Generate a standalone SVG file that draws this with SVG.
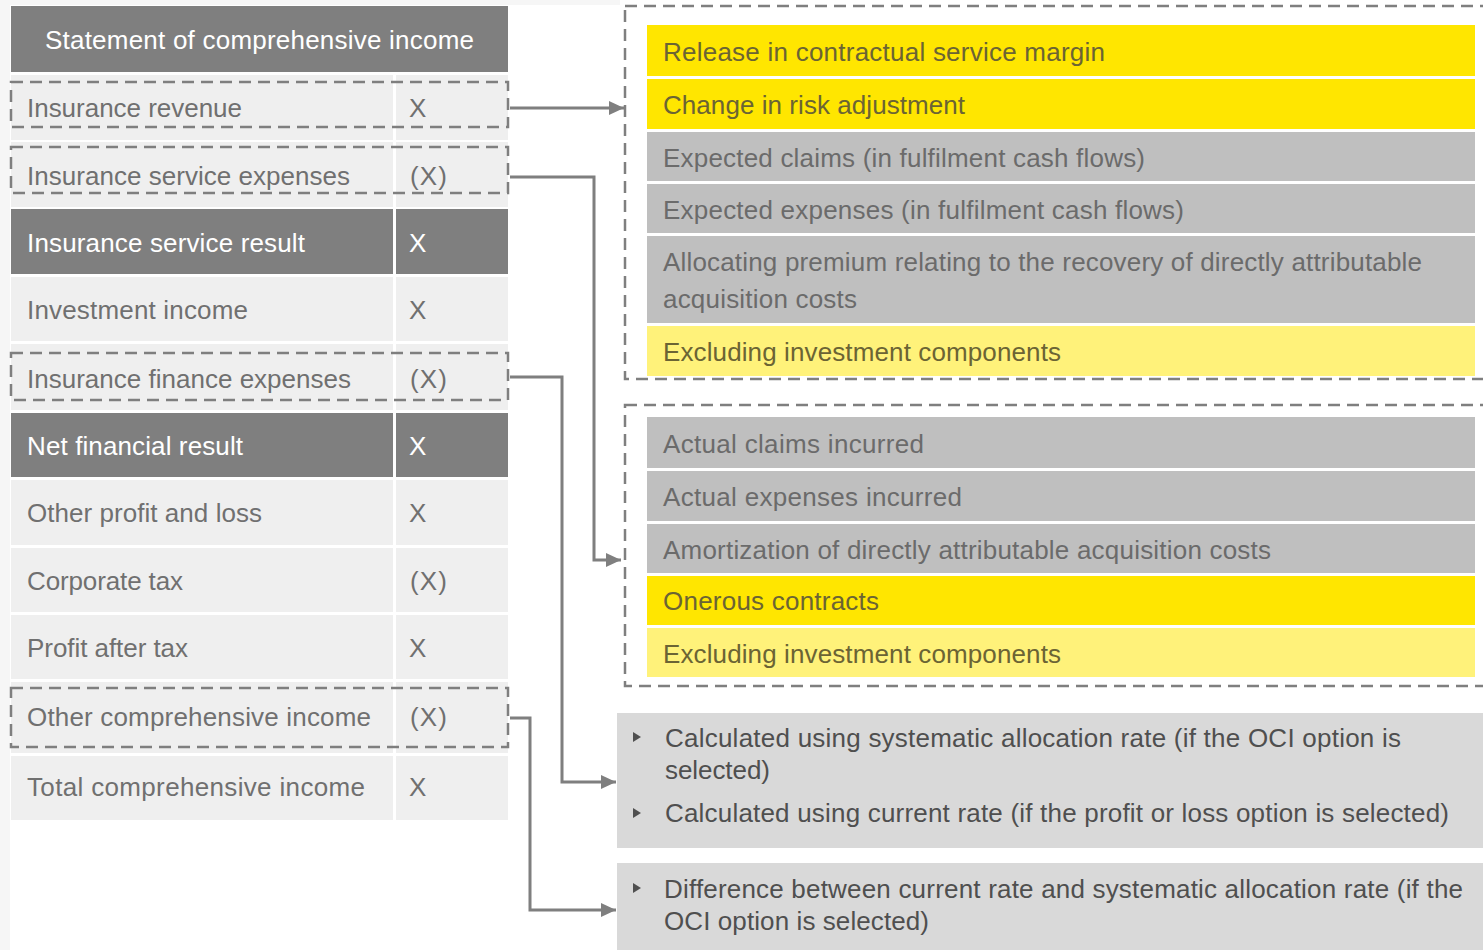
<svg xmlns="http://www.w3.org/2000/svg" width="1483" height="950" viewBox="0 0 1483 950">
<style>
text{font-family:"Liberation Sans Narrow","Liberation Sans",Arial,sans-serif;font-size:26px}
.lt{fill:#efefef}
.dk{fill:#7f7f7f}
.tl{fill:#707070}
.tw{fill:#ffffff}
.ty{fill:#6b6434}
.tg{fill:#6b6b6b}
.tb{fill:#4f4f4f}
.yl{fill:#ffe600}
.ly{fill:#fff27a}
.gr{fill:#bfbfbf}
.bx{fill:#d9d9d9}
.dash{fill:none;stroke:#7f7f7f;stroke-width:2.5;stroke-dasharray:12 7}
.con{fill:none;stroke:#7f7f7f;stroke-width:3}
.bul{fill:#505050}
</style>
<defs>
<marker id="ah" markerUnits="userSpaceOnUse" markerWidth="16" markerHeight="16" refX="15" refY="8" orient="auto">
<path d="M0,1 L15,8 L0,15 Z" fill="#7f7f7f"/>
</marker>
</defs>
<rect x="0" y="0" width="1483" height="950" fill="#ffffff"/>
<rect x="0" y="0" width="10" height="950" fill="#f6f6f6"/>
<rect x="0" y="0" width="620" height="5" fill="#f6f6f6"/>

<g id="header">
<rect class="dk" x="11" y="6" width="497" height="66"/>
<text class="tw" x="259.5" y="49" text-anchor="middle" textLength="429" lengthAdjust="spacing">Statement of comprehensive income</text>
</g>
<g id="insurance-revenue">
<rect class="lt" x="11" y="75" width="382" height="65"/><rect class="lt" x="396" y="75" width="112" height="65"/>
<rect class="dash" x="11" y="82" width="497" height="45"/>
<text class="tl" x="27" y="117" textLength="215" lengthAdjust="spacing">Insurance revenue</text>
<text class="tl" x="409" y="117">X</text>
</g>
<g id="insurance-service-expenses">
<rect class="lt" x="11" y="142" width="382" height="65"/><rect class="lt" x="396" y="142" width="112" height="65"/>
<rect class="dash" x="11" y="147" width="497" height="46"/>
<text class="tl" x="27" y="185" textLength="323" lengthAdjust="spacing">Insurance service expenses</text>
<text class="tl" x="410" y="185" textLength="37" lengthAdjust="spacing">(X)</text>
</g>
<g id="insurance-service-result">
<rect class="dk" x="11" y="209" width="382" height="65"/><rect class="dk" x="396" y="209" width="112" height="65"/>
<text class="tw" x="27" y="252" textLength="278" lengthAdjust="spacing">Insurance service result</text>
<text class="tw" x="409" y="252">X</text>
</g>
<g id="investment-income">
<rect class="lt" x="11" y="277" width="382" height="64"/><rect class="lt" x="396" y="277" width="112" height="64"/>
<text class="tl" x="27" y="319" textLength="221" lengthAdjust="spacing">Investment income</text>
<text class="tl" x="409" y="319">X</text>
</g>
<g id="insurance-finance-expenses">
<rect class="lt" x="11" y="344" width="382" height="66"/><rect class="lt" x="396" y="344" width="112" height="66"/>
<rect class="dash" x="11" y="353" width="497" height="47"/>
<text class="tl" x="27" y="388" textLength="324" lengthAdjust="spacing">Insurance finance expenses</text>
<text class="tl" x="410" y="388" textLength="37" lengthAdjust="spacing">(X)</text>
</g>
<g id="net-financial-result">
<rect class="dk" x="11" y="413" width="382" height="64"/><rect class="dk" x="396" y="413" width="112" height="64"/>
<text class="tw" x="27" y="455" textLength="216" lengthAdjust="spacing">Net financial result</text>
<text class="tw" x="409" y="455">X</text>
</g>
<g id="other-profit-and-loss">
<rect class="lt" x="11" y="480" width="382" height="65"/><rect class="lt" x="396" y="480" width="112" height="65"/>
<text class="tl" x="27" y="522" textLength="235" lengthAdjust="spacing">Other profit and loss</text>
<text class="tl" x="409" y="522">X</text>
</g>
<g id="corporate-tax">
<rect class="lt" x="11" y="548" width="382" height="64"/><rect class="lt" x="396" y="548" width="112" height="64"/>
<text class="tl" x="27" y="590" textLength="156" lengthAdjust="spacing">Corporate tax</text>
<text class="tl" x="410" y="590" textLength="37" lengthAdjust="spacing">(X)</text>
</g>
<g id="profit-after-tax">
<rect class="lt" x="11" y="615" width="382" height="64"/><rect class="lt" x="396" y="615" width="112" height="64"/>
<text class="tl" x="27" y="657" textLength="161" lengthAdjust="spacing">Profit after tax</text>
<text class="tl" x="409" y="657">X</text>
</g>
<g id="other-comprehensive-income">
<rect class="lt" x="11" y="682" width="382" height="71"/><rect class="lt" x="396" y="682" width="112" height="71"/>
<rect class="dash" x="11" y="688" width="497" height="59"/>
<text class="tl" x="27" y="726" textLength="344" lengthAdjust="spacing">Other comprehensive income</text>
<text class="tl" x="410" y="726" textLength="37" lengthAdjust="spacing">(X)</text>
</g>
<g id="total-comprehensive-income">
<rect class="lt" x="11" y="756" width="382" height="64"/><rect class="lt" x="396" y="756" width="112" height="64"/>
<text class="tl" x="27" y="796" textLength="338" lengthAdjust="spacing">Total comprehensive income</text>
<text class="tl" x="409" y="796">X</text>
</g>

<g id="revenue-components">
<rect class="dash" x="625" y="6" width="870" height="373"/>
<rect class="yl" x="647" y="25" width="828" height="51"/>
<text class="ty" x="663" y="61" textLength="442" lengthAdjust="spacing">Release in contractual service margin</text>
<rect class="yl" x="647" y="79" width="828" height="50"/>
<text class="ty" x="663" y="114" textLength="302" lengthAdjust="spacing">Change in risk adjustment</text>
<rect class="gr" x="647" y="132" width="828" height="49"/>
<text class="tg" x="663" y="167" textLength="482" lengthAdjust="spacing">Expected claims (in fulfilment cash flows)</text>
<rect class="gr" x="647" y="184" width="828" height="49"/>
<text class="tg" x="663" y="219" textLength="521" lengthAdjust="spacing">Expected expenses (in fulfilment cash flows)</text>
<rect class="gr" x="647" y="236" width="828" height="87"/>
<text class="tg" x="663" y="271" textLength="759" lengthAdjust="spacing">Allocating premium relating to the recovery of directly attributable</text>
<text class="tg" x="663" y="308" textLength="194" lengthAdjust="spacing">acquisition costs</text>
<rect class="ly" x="647" y="326" width="828" height="50"/>
<text class="ty" x="663" y="361" textLength="398" lengthAdjust="spacing">Excluding investment components</text>
</g>

<g id="service-expense-components">
<rect class="dash" x="625" y="405" width="870" height="281"/>
<rect class="gr" x="647" y="417" width="828" height="51"/>
<text class="tg" x="663" y="453" textLength="261" lengthAdjust="spacing">Actual claims incurred</text>
<rect class="gr" x="647" y="471" width="828" height="50"/>
<text class="tg" x="663" y="506" textLength="299" lengthAdjust="spacing">Actual expenses incurred</text>
<rect class="gr" x="647" y="524" width="828" height="49"/>
<text class="tg" x="663" y="559" textLength="608" lengthAdjust="spacing">Amortization of directly attributable acquisition costs</text>
<rect class="yl" x="647" y="576" width="828" height="49"/>
<text class="ty" x="663" y="610" textLength="216" lengthAdjust="spacing">Onerous contracts</text>
<rect class="ly" x="647" y="628" width="828" height="49"/>
<text class="ty" x="663" y="663" textLength="398" lengthAdjust="spacing">Excluding investment components</text>
</g>

<g id="finance-expense-notes">
<rect class="bx" x="617" y="713" width="866" height="135"/>
<polygon class="bul" points="633,732 641,737 633,742"/>
<text class="tb" x="665" y="747" textLength="736" lengthAdjust="spacing">Calculated using systematic allocation rate (if the OCI option is</text>
<text class="tb" x="665" y="779" textLength="105" lengthAdjust="spacing">selected)</text>
<polygon class="bul" points="633,808 641,813 633,818"/>
<text class="tb" x="665" y="822" textLength="784" lengthAdjust="spacing">Calculated using current rate (if the profit or loss option is selected)</text>
</g>

<g id="oci-notes">
<rect class="bx" x="617" y="863" width="866" height="87"/>
<polygon class="bul" points="633,883 641,888 633,893"/>
<text class="tb" x="664" y="898" textLength="799" lengthAdjust="spacing">Difference between current rate and systematic allocation rate (if the</text>
<text class="tb" x="664" y="930" textLength="265" lengthAdjust="spacing">OCI option is selected)</text>
</g>

<g id="connectors">
<path class="con" d="M510,108 H624" marker-end="url(#ah)"/>
<path class="con" d="M510,177 H594 V560 H621" marker-end="url(#ah)"/>
<path class="con" d="M510,377 H562 V782 H616" marker-end="url(#ah)"/>
<path class="con" d="M510,718 H530 V910 H616" marker-end="url(#ah)"/>
</g>
</svg>
